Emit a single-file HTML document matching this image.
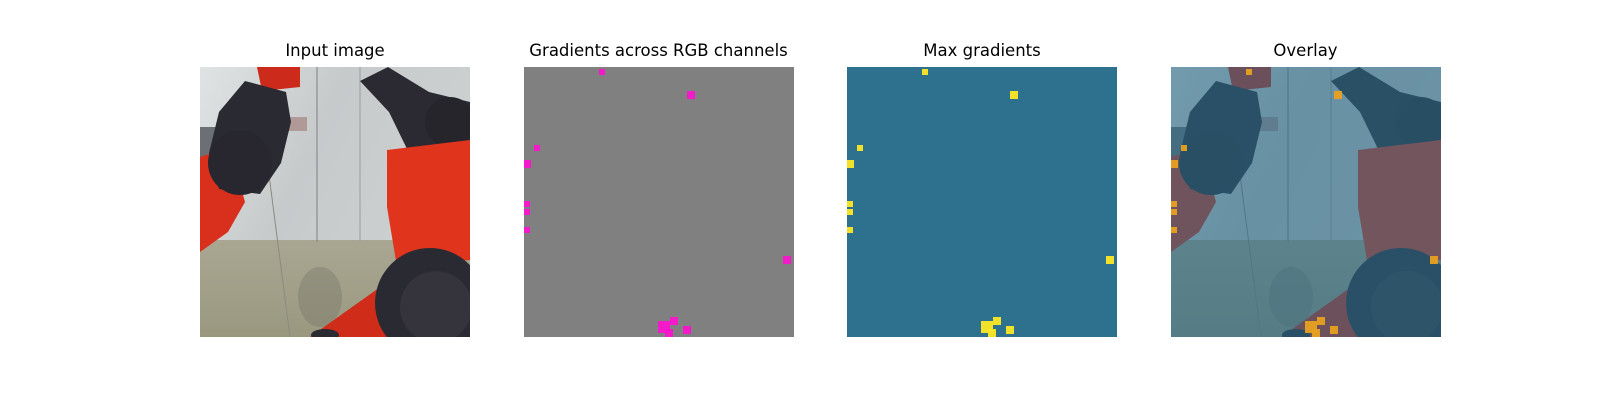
<!DOCTYPE html>
<html><head><meta charset="utf-8"><style>
body{margin:0;background:#fff;width:1600px;height:400px;overflow:hidden;position:relative;font-family:"DejaVu Sans","Liberation Sans",sans-serif}
.t{position:absolute;top:41px;width:270px;text-align:center;font-size:16.5px;color:#000}
svg.p{position:absolute;top:67px;width:270px;height:270px}
</style></head><body>
<div class="t" style="left:200px">Input image</div>
<div class="t" style="left:523.5px;width:270px">Gradients across RGB channels</div>
<div class="t" style="left:847px">Max gradients</div>
<div class="t" style="left:1170.5px">Overlay</div>

<svg width="0" height="0" style="position:absolute">
<defs>
<linearGradient id="wall" x1="0" y1="0" x2="1" y2="0.3"><stop offset="0" stop-color="#dfe3e3"/><stop offset="0.5" stop-color="#c6cacb"/><stop offset="1" stop-color="#cdd0d0"/></linearGradient>
<linearGradient id="floor" x1="0" y1="0" x2="0" y2="1"><stop offset="0" stop-color="#a9a792"/><stop offset="1" stop-color="#99987f"/></linearGradient>
<g id="scene">
<rect width="270" height="175" fill="url(#wall)"/>
<rect y="173" width="270" height="97" fill="url(#floor)"/>
<rect x="0" y="60" width="20" height="50" fill="#6c7076"/>
<line x1="117" y1="0" x2="117" y2="175" stroke="#8a8e8e" stroke-width="1.2"/>
<line x1="160" y1="0" x2="160" y2="175" stroke="#9a9e9e" stroke-width="1"/>
<line x1="68" y1="100" x2="90" y2="270" stroke="#8a8c80" stroke-width="1"/>
<rect x="85" y="50" width="22" height="14" fill="#b09a98"/>
<ellipse cx="120" cy="230" rx="22" ry="30" fill="#7f7e70" opacity="0.5"/>
<polygon points="0,90 30,80 45,135 28,165 0,185" fill="#d8301c"/>
<polygon points="57,0 100,0 100,20 62,24" fill="#cc2a1a"/>
<polygon points="45,14 86,25 91,55 81,96 60,127 19,122 9,86 19,45" fill="#2a2a33"/>
<circle cx="40" cy="96" r="32" fill="#28272f"/>
<polygon points="160,14 188,0 229,25 270,35 270,96 209,86 189,45" fill="#2b2a32"/>
<circle cx="250" cy="55" r="25" fill="#26252c"/>
<polygon points="187,83 270,73 270,193 197,200 187,140" fill="#e0351c"/>
<polygon points="110,270 190,213 207,270" fill="#cf2c1a"/>
<circle cx="230" cy="236" r="55" fill="#2a2a33"/>
<circle cx="236" cy="240" r="36" fill="#35343d"/>
<ellipse cx="125" cy="268" rx="14" ry="6" fill="#2a2a33"/>
</g>
</defs>
</svg>

<svg class="p" style="left:200px" viewBox="0 0 270 270"><use href="#scene"/></svg>
<svg class="p" id="g" style="left:523.5px" viewBox="0 0 270 270"><rect width="270" height="270" fill="#808080"/></svg>
<svg class="p" id="m" style="left:847px" viewBox="0 0 270 270"><rect width="270" height="270" fill="#2d718e"/></svg>
<svg class="p" id="o" style="left:1170.5px" viewBox="0 0 270 270"><use href="#scene"/><rect width="270" height="270" fill="#2a6a88" opacity="0.6"/></svg>

<script>
const spotX=[167,3,13,3,3,3,263,140,150,145,163,78];
const spotY=[28,97,81,137,145,163,193,260,254,266,263,5];
const spotR=[4,4,3,3,3,3,4,6,4,4,4,3];
const NS="http://www.w3.org/2000/svg";
function draw(id,col,op){
  const s=document.getElementById(id);
  for(let i=0;i<spotX.length;i++){
    const r=document.createElementNS(NS,'rect');
    r.setAttribute('x',spotX[i]-spotR[i]);r.setAttribute('y',spotY[i]-spotR[i]);
    r.setAttribute('width',spotR[i]*2);r.setAttribute('height',spotR[i]*2);
    r.setAttribute('fill',col);r.setAttribute('opacity',op);
    
    
    s.appendChild(r);
  }
}
draw('g','#ff10d0',0.9);
draw('m','#fde725',0.95);
draw('o','#e8a020',0.95);
</script>
</body></html>
